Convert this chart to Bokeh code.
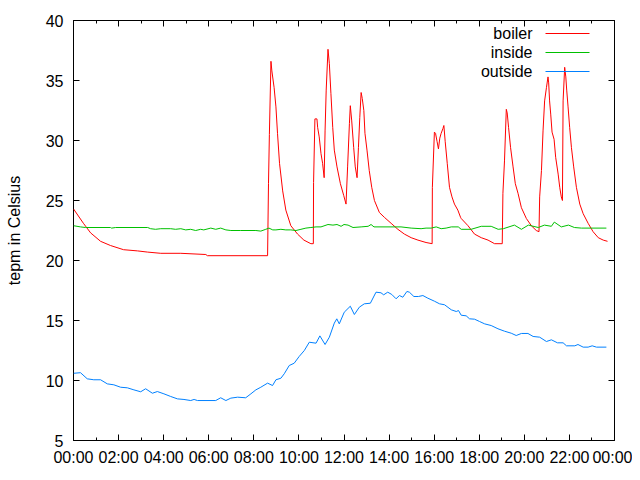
from bokeh.plotting import figure
from bokeh.models import Range1d, LinearAxis, FixedTicker, Label, Arrow
from bokeh.embed import file_html
from bokeh.resources import INLINE

# ---------------- data ----------------
hour_ticks = [0, 2, 4, 6, 8, 10, 12, 14, 16, 18, 20, 22, 24]
tick_labels = ["00:00", "02:00", "04:00", "06:00", "08:00", "10:00", "12:00",
               "14:00", "16:00", "18:00", "20:00", "22:00", "00:00"]
temp_ticks = [5, 10, 15, 20, 25, 30, 35, 40]
series_names = ["boiler", "inside", "outside"]

boiler_time = [0.0, 0.44, 0.76, 1.2, 1.64, 2.22, 2.84, 3.29, 3.87, 4.76, 5.87, 5.94, 8.61,
               8.65, 8.69, 8.76, 8.8, 8.9, 8.98, 9.05, 9.14, 9.28, 9.42, 9.64, 9.94, 10.22, 10.53, 10.64,
               10.65, 10.71, 10.8, 10.83, 10.9, 10.98, 11.05, 11.12, 11.16, 11.21, 11.29, 11.35, 11.42,
               11.5, 11.57, 11.69, 11.84, 11.99, 12.09, 12.16, 12.24, 12.28, 12.34, 12.43, 12.5, 12.58,
               12.64, 12.7, 12.76, 12.81, 12.88, 12.93, 13.02, 13.12, 13.23, 13.35, 13.57, 13.79, 14.09,
               14.39, 14.68, 14.98, 15.28, 15.64, 15.91,
               15.92, 16.01, 16.06, 16.13, 16.19, 16.25, 16.31, 16.39, 16.43, 16.49, 16.58, 16.68, 16.79,
               16.9, 17.05, 17.17, 17.2, 17.5, 17.79, 18.09, 18.39, 18.68, 19.02,
               19.05, 19.12, 19.2, 19.24, 19.3, 19.39, 19.5, 19.6, 19.72, 19.87, 20.09, 20.31, 20.53, 20.65,
               20.68, 20.76, 20.83, 20.9, 20.98, 21.05, 21.08, 21.12, 21.17, 21.23, 21.32, 21.39, 21.5,
               21.57, 21.64, 21.69,
               21.72, 21.79, 21.84, 21.88, 21.94, 22.01, 22.09, 22.19, 22.31, 22.46, 22.61, 22.83, 23.05,
               23.28, 23.5, 23.69]
boiler_temp = [24.3, 23.1, 22.3, 21.6, 21.25, 20.9, 20.8, 20.7, 20.6, 20.6, 20.5, 20.4, 20.4,
               26.4, 30.5, 36.6, 35.8, 34.4, 32.8, 30.6, 28.1, 25.8, 24.2, 22.9, 22.2, 21.7, 21.4, 21.4,
               26.5, 31.8, 31.8, 31.1, 30.3, 28.9, 28.1, 26.9, 30.8, 34.2, 37.6, 36.4, 33.9,
               31.1, 29.2, 27.8, 26.4, 25.4, 24.7, 27.8, 31.4, 32.9, 31.7, 29.4, 27.8, 26.9,
               29.4, 31.9, 34.0, 33.5, 32.5, 30.6, 29.2, 27.5, 26.1, 25.0, 24.0, 23.6, 23.1,
               22.6, 22.2, 21.9, 21.7, 21.5, 21.4,
               26.1, 30.7, 30.6, 29.9, 29.3, 30.2, 30.6, 31.0, 31.25, 29.9, 28.1, 26.1, 25.3,
               24.7, 24.2, 23.6, 23.5, 22.9, 22.2, 21.9, 21.7, 21.4, 21.4,
               25.6, 28.3, 32.6, 32.3, 31.1, 29.4, 27.8, 26.4, 25.6, 24.4, 23.5, 22.9, 22.5, 22.4,
               25.3, 27.5, 30.8, 33.3, 34.4, 35.3, 34.8, 33.3, 32.2, 30.7, 30.1, 28.6, 27.2,
               26.1, 25.3, 25.0,
               33.3, 36.1, 35.3, 34.2, 32.8, 31.1, 29.4, 27.8, 26.1, 24.7, 23.9, 23.1, 22.4,
               21.9, 21.7, 21.6]

inside_time = [0.0, 0.31, 0.53, 1.64, 1.69, 1.87, 3.29, 3.42, 3.64, 3.87, 4.31, 4.53, 4.76, 4.98,
               5.2, 5.42, 5.64, 5.78, 6.09, 6.31, 6.53, 6.76, 6.98, 7.42, 8.09, 8.31, 8.53, 8.67,
               8.84, 8.98, 9.2, 9.42, 9.64, 9.87, 10.09, 10.31, 10.53, 10.76, 10.98, 11.29, 11.51,
               11.69, 11.87, 12.0, 12.18, 12.4, 12.76, 13.07, 13.2, 13.33, 14.53, 14.98, 15.42,
               15.64, 15.87, 16.09, 16.31, 16.53, 16.76, 17.07, 17.2, 17.64, 18.09, 18.53, 18.84,
               19.07, 19.56, 19.87, 20.18, 20.62, 20.89, 21.2, 21.33, 21.64, 21.96, 22.22, 22.53, 23.64]
inside_temp = [22.9, 22.8, 22.75, 22.75, 22.7, 22.75, 22.75, 22.65, 22.6, 22.65, 22.65, 22.6, 22.65, 22.55,
               22.6, 22.5, 22.6, 22.55, 22.7, 22.6, 22.7, 22.55, 22.5, 22.5, 22.5, 22.45, 22.6, 22.7,
               22.55, 22.55, 22.6, 22.55, 22.55, 22.5, 22.6, 22.7, 22.75, 22.8, 22.8, 23.0, 22.95,
               23.0, 22.85, 23.0, 22.95, 22.75, 22.8, 22.85, 23.0, 22.8, 22.8, 22.7, 22.65,
               22.7, 22.7, 22.8, 22.65, 22.7, 22.8, 22.8, 22.6, 22.6, 22.85, 22.85, 22.6,
               22.65, 22.95, 22.6, 22.95, 22.75, 22.95, 22.85, 23.2, 22.8, 22.95, 22.75, 22.7, 22.7]

outside_time = [0.0, 0.31, 0.61, 0.9, 1.2, 1.5, 1.79, 2.09, 2.39, 2.68, 2.98, 3.2, 3.5, 3.72, 4.01,
                4.31, 4.61, 4.9, 5.2, 5.35, 5.5, 6.31, 6.53, 6.76, 6.98, 7.28, 7.64, 7.87, 8.09,
                8.31, 8.61, 8.83, 8.98, 9.2, 9.35, 9.57, 9.79, 10.01, 10.24, 10.46, 10.76, 10.93,
                11.16, 11.35, 11.57, 11.68, 11.79, 12.01, 12.28, 12.46, 12.68, 12.9, 13.17, 13.42,
                13.64, 13.76, 13.94, 14.12, 14.31, 14.46, 14.61, 14.79, 14.9, 15.1, 15.3, 15.5,
                15.72, 16.01, 16.24, 16.46, 16.76, 16.98, 17.08, 17.2, 17.42, 17.57, 17.79, 18.01,
                18.24, 18.53, 18.83, 19.12, 19.42, 19.64, 19.87, 20.16, 20.39, 20.68, 20.98, 21.2,
                21.47, 21.72, 21.87, 22.24, 22.38, 22.61, 22.83, 23.01, 23.2, 23.64]
outside_temp = [10.6, 10.65, 10.14, 10.06, 10.06, 9.72, 9.64, 9.44, 9.39, 9.22, 9.06, 9.31, 8.94, 9.08, 8.89,
                8.67, 8.47, 8.42, 8.33, 8.42, 8.33, 8.33, 8.56, 8.33, 8.53, 8.61, 8.56, 8.89, 9.22,
                9.44, 9.78, 9.58, 10.06, 10.19, 10.56, 11.25, 11.44, 12.0, 12.5, 13.19, 13.11, 13.72,
                13.0, 13.61, 14.78, 15.14, 14.72, 15.69, 16.19, 15.5, 16.11, 16.39, 16.44, 17.36,
                17.31, 17.14, 17.36, 17.17, 16.81, 17.08, 16.94, 17.42, 17.36, 17.0, 17.0, 17.08,
                16.86, 16.61, 16.39, 16.31, 15.89, 15.75, 15.83, 15.44, 15.39, 15.14, 15.11, 14.92,
                14.72, 14.58, 14.31, 14.11, 13.94, 13.75, 13.92, 13.92, 13.67, 13.61, 13.25, 13.39,
                13.14, 13.14, 12.89, 12.89, 13.0, 12.78, 12.78, 12.89, 12.78, 12.78]

colors = ["#ff0000", "#00c000", "#0080ff"]
FONT = "Liberation Sans"
FSIZE = "16px"

# ---------------- figure ----------------
p = figure(width=632, height=472, output_backend="svg", toolbar_location=None,
           x_range=Range1d(0, 24), y_range=Range1d(5, 40),
           min_border_left=73, min_border_right=18, min_border_top=20, min_border_bottom=32,
           background_fill_color="white", border_fill_color="white")
p.grid.visible = False
p.outline_line_color = "black"
p.outline_line_width = 1

x_ticker = FixedTicker(ticks=hour_ticks, minor_ticks=list(range(0, 25)))
y_ticker = FixedTicker(ticks=temp_ticks, minor_ticks=[])
overrides = {t: lab for t, lab in zip(hour_ticks, tick_labels)}

xa = p.xaxis[0]
xa.ticker = x_ticker
xa.major_label_overrides = overrides
ya = p.yaxis[0]
ya.ticker = y_ticker
ya.axis_label = "tepm in Celsius"

top = LinearAxis(ticker=x_ticker)
right = LinearAxis(ticker=y_ticker)
p.add_layout(top, "above")
p.add_layout(right, "right")

for ax in [xa, ya, top, right]:
    ax.axis_line_color = None
    ax.major_tick_in = 6
    ax.major_tick_out = 0
    ax.minor_tick_in = 3
    ax.minor_tick_out = 0
    ax.major_tick_line_color = "black"
    ax.minor_tick_line_color = "black"
    ax.major_label_text_font = FONT
    ax.major_label_text_font_size = FSIZE
    ax.major_label_text_color = "#000000"

for ax in [top, right]:
    ax.major_label_text_font_size = "0px"
    ax.major_label_standoff = 0
    ax.major_label_overrides = {t: "" for t in (hour_ticks if ax is top else temp_ticks)}

xa.major_label_standoff = 8
ya.major_label_standoff = 10
ya.axis_label_text_font = FONT
ya.axis_label_text_font_size = FSIZE
ya.axis_label_text_font_style = "normal"
ya.axis_label_text_color = "#000000"
ya.axis_label_standoff = 20

series = [(boiler_time, boiler_temp), (inside_time, inside_temp), (outside_time, outside_temp)]
for (t, v), c in zip(series, colors):
    p.line(t, v, line_color=c, line_width=1)

# manual gnuplot-style key (text left, sample right), in frame screen units
key_text_right = 459
key_sample = (472, 516)
key_rows = [407, 388, 369]
for name, c, yy in zip(series_names, colors, key_rows):
    p.add_layout(Label(x=key_text_right, y=yy, x_units="screen", y_units="screen", text=name,
                       text_align="right", text_baseline="middle", text_font=FONT,
                       text_font_size=FSIZE, text_color="#000000"))
    p.add_layout(Arrow(end=None, x_start=key_sample[0], y_start=yy, x_end=key_sample[1], y_end=yy,
                       start_units="screen", end_units="screen", line_color=c, line_width=1))

open("out.html", "w").write(file_html(p, INLINE))
